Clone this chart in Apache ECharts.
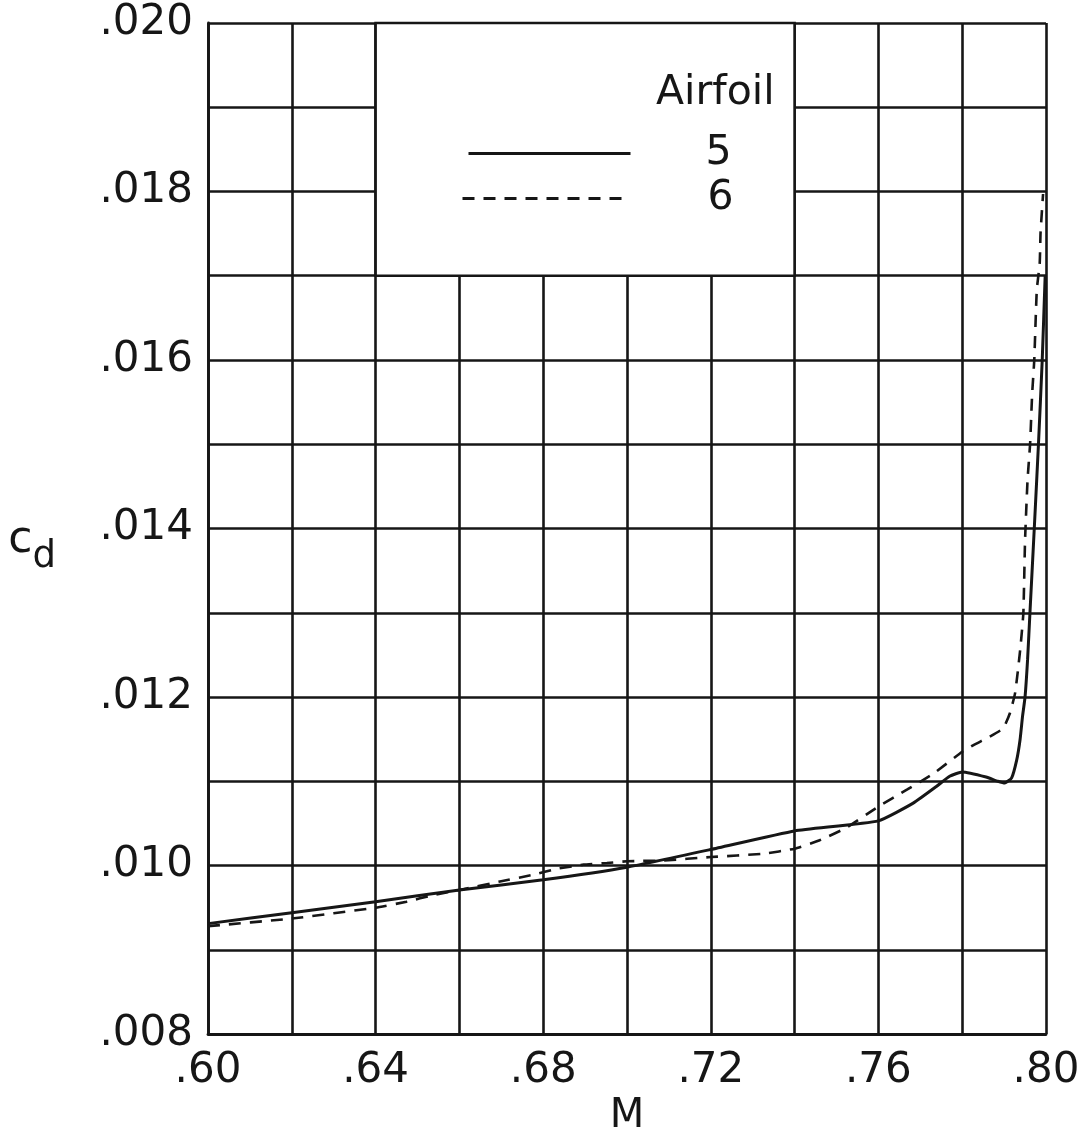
<!DOCTYPE html>
<html>
<head>
<meta charset="utf-8">
<script src="https://cdn.jsdelivr.net/npm/echarts@6/dist/echarts.min.js"></script>
<style>
  html, body { margin: 0; padding: 0; background: #fff; }
  #chart { width: 1081px; height: 1130px; }
</style>
</head>
<body>
<div id="chart"></div>
<script>
// Airfoil 5 (solid)
const mach5 = [0.600, 0.620, 0.640, 0.660, 0.680, 0.700, 0.720, 0.740, 0.760, 0.7683, 0.7739, 0.7770, 0.7800,
  0.7857, 0.7885, 0.7902, 0.7918, 0.7930, 0.7938, 0.7944, 0.7950, 0.7956, 0.7962, 0.7972, 0.7982, 0.7991, 0.7998];
const cd5 = [0.00931, 0.00944, 0.00957, 0.00971, 0.00983, 0.00998, 0.01019, 0.01041, 0.01053, 0.01074, 0.01094, 0.01106, 0.01111,
  0.01105, 0.01100, 0.01098, 0.01104, 0.01125, 0.01149, 0.01177, 0.01200, 0.01244, 0.01303, 0.01400, 0.01500, 0.01600, 0.01700];

// Airfoil 6 (dashed)
const mach6 = [0.600, 0.620, 0.640, 0.6474, 0.6538, 0.660, 0.6697, 0.6776, 0.6832, 0.6896, 0.6952, 0.700, 0.7087, 0.720,
  0.7325, 0.740, 0.746, 0.7524, 0.760, 0.7668, 0.7731, 0.780, 0.7827, 0.7866, 0.7898, 0.7914, 0.7926, 0.7934, 0.7940,
  0.7946, 0.7950, 0.7956, 0.7962, 0.7967, 0.7972, 0.7978, 0.7985, 0.7987, 0.7993];
const cd6 = [0.00928, 0.00937, 0.00950, 0.00957, 0.00965, 0.00971, 0.00981, 0.00989, 0.00996, 0.01001, 0.01003, 0.01005, 0.01006, 0.01010,
  0.01014, 0.01020, 0.01030, 0.01045, 0.01070, 0.01090, 0.01109, 0.01135, 0.01143, 0.01153, 0.01163, 0.01181, 0.01204, 0.01236, 0.01264,
  0.01300, 0.01386, 0.01458, 0.01500, 0.01560, 0.01600, 0.01683, 0.01715, 0.01751, 0.01797];

const seriesNames = ["5", "6"];
const legendTitle = "Airfoil";
// legend box sits on the grid over this region
const legendBoxM = [0.64, 0.74];
const legendBoxCd = [0.017, 0.020];

const ink = "#161616";
const font = "DejaVu Sans";

const chart = echarts.init(document.getElementById("chart"));

const pairs = (xs, ys) => xs.map((x, i) => [x, ys[i]]);

// one legend per entry so each row can be placed like the hand-drawn key
const legendRow = (name, left, top, width, textPad) => ({
  data: [name],
  left: left,
  top: top,
  itemWidth: width,
  itemHeight: 40,
  selectedMode: false,
  itemStyle: { opacity: 0 },
  lineStyle: { width: 3 },
  textStyle: { fontFamily: font, fontSize: 41, color: ink, padding: [0, 0, 0, textPad] },
});

const option = {
  animation: false,
  backgroundColor: "#fff",
  grid: { left: 208, right: 35, top: 23, bottom: 96, containLabel: false, outerBoundsMode: "none" },
  title: {
    text: legendTitle,
    left: 651,
    top: 68,
    textStyle: { fontFamily: font, fontSize: 41, fontWeight: "normal", color: ink },
  },
  legend: [
    legendRow(seriesNames[0], 462, 128, 162, 70),
    legendRow(seriesNames[1], 456, 173, 166, 74),
  ],
  xAxis: {
    type: "value",
    min: 0.6,
    max: 0.8,
    interval: 0.02,
    name: "M",
    nameLocation: "middle",
    nameGap: 60,
    nameTextStyle: { fontFamily: font, fontSize: 40, color: ink },
    axisLine: { lineStyle: { color: ink, width: 2.8 } },
    axisTick: { show: false },
    splitLine: { show: true, lineStyle: { color: ink, width: 2.6 } },
    axisLabel: {
      fontFamily: font,
      fontSize: 42,
      color: ink,
      margin: 16,
      formatter: (v) => (Math.round(v * 100) % 4 === 0 ? v.toFixed(2).replace(/^0/, "") : ""),
    },
  },
  yAxis: {
    type: "value",
    min: 0.008,
    max: 0.02,
    interval: 0.001,
    name: "{c|c}{d|d}",
    nameLocation: "middle",
    nameRotate: 0,
    nameGap: 152,
    nameTextStyle: {
      color: ink,
      padding: [38, 0, 0, 0],
      rich: {
        c: { fontFamily: font, fontSize: 44, color: ink, verticalAlign: "top" },
        d: { fontFamily: font, fontSize: 37, color: ink, verticalAlign: "top", padding: [20, 0, 0, 0] },
      },
    },
    axisLine: { lineStyle: { color: ink, width: 2.8 } },
    axisTick: { show: false },
    splitLine: { show: true, lineStyle: { color: ink, width: 2.6 } },
    axisLabel: {
      fontFamily: font,
      fontSize: 42,
      color: ink,
      margin: 15,
      padding: [6, 0, 0, 0],
      formatter: (v) => (Math.round(v * 1000) % 2 === 0 ? v.toFixed(3).replace(/^0/, "") : ""),
    },
  },
  series: [
    {
      name: seriesNames[0],
      type: "line",
      data: pairs(mach5, cd5),
      symbol: "none",
      smooth: 0.15,
      color: ink,
      lineStyle: { color: ink, width: 3 },
      markArea: {
        silent: true,
        itemStyle: { color: "#fff", borderColor: ink, borderWidth: 2.6 },
        data: [[{ coord: [legendBoxM[0], legendBoxCd[0]] }, { coord: [legendBoxM[1], legendBoxCd[1]] }]],
      },
    },
    {
      name: seriesNames[1],
      type: "line",
      data: pairs(mach6, cd6),
      symbol: "none",
      smooth: 0.15,
      color: ink,
      lineStyle: { color: ink, width: 2.6, type: [12, 9] },
    },
  ],
};

chart.setOption(option);
</script>
</body>
</html>
